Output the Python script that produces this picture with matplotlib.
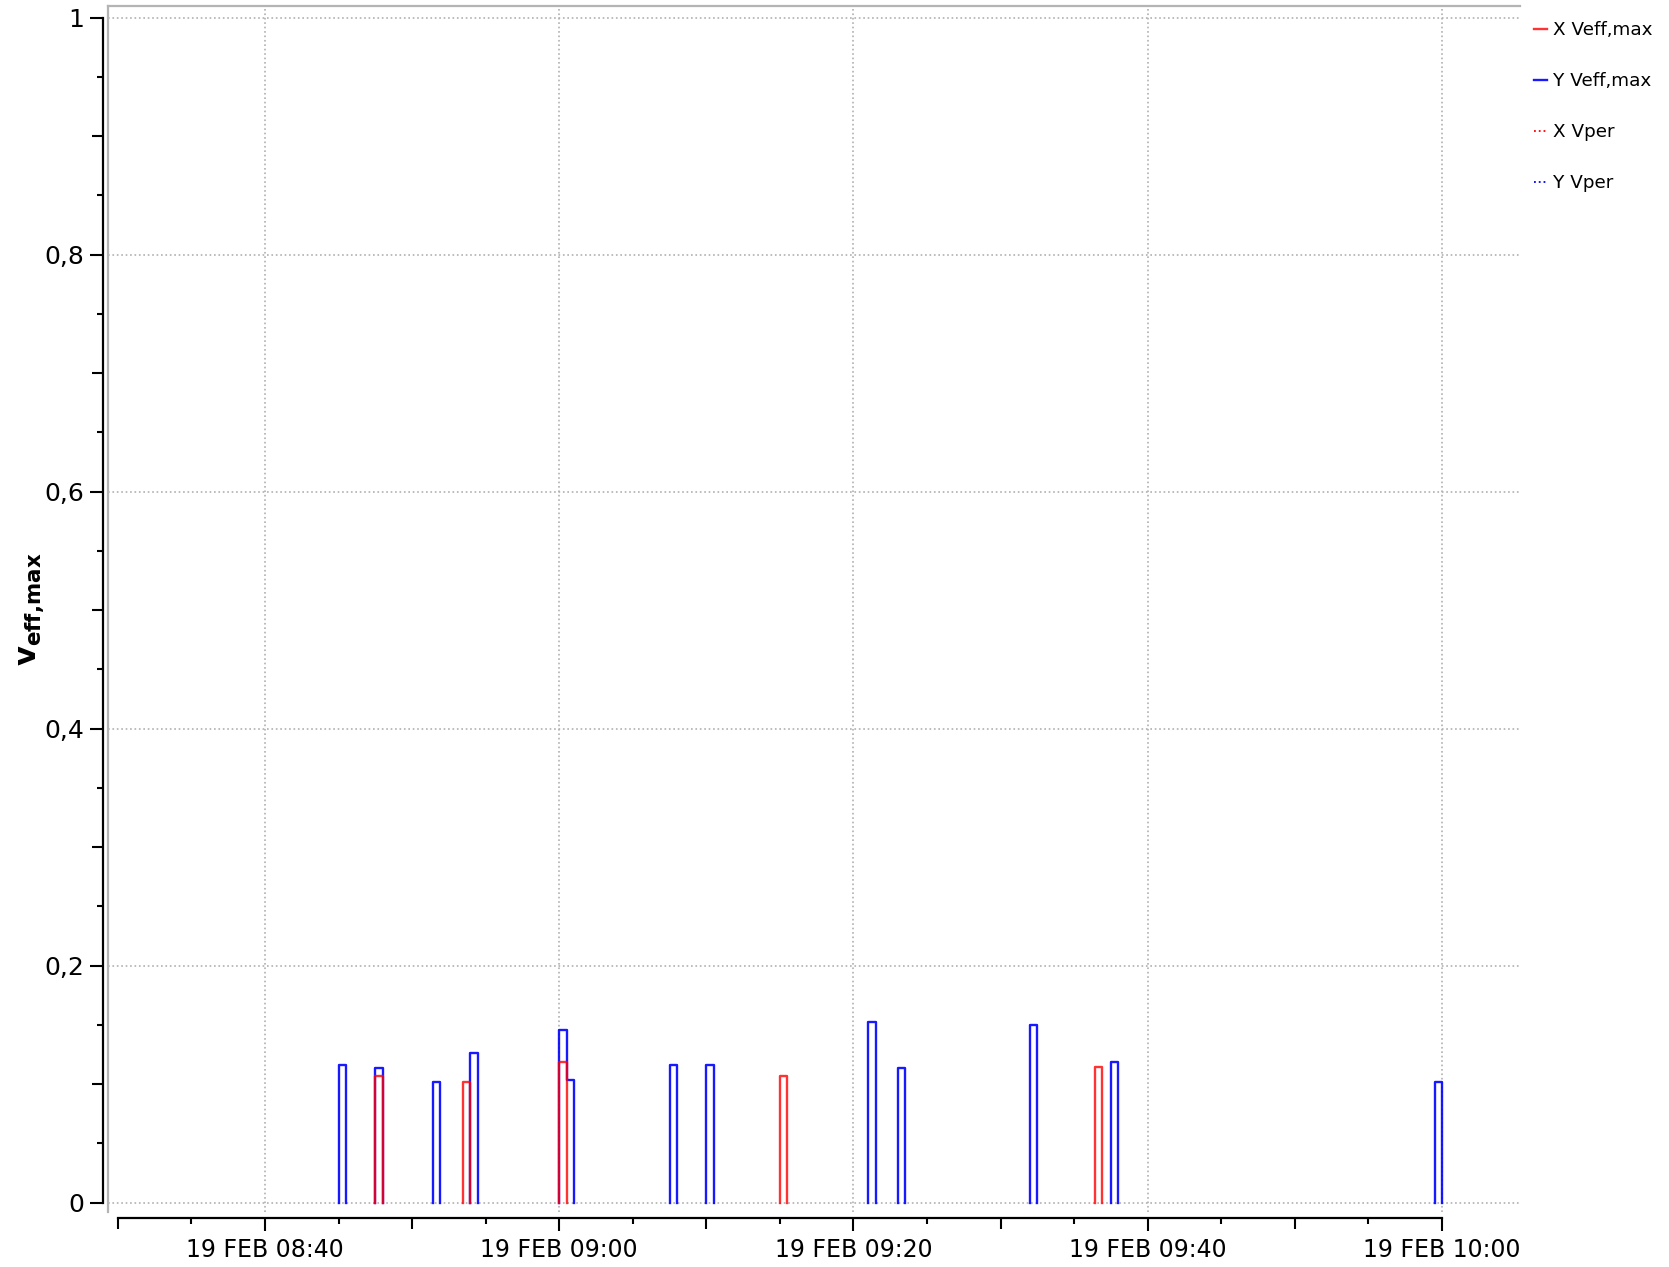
import matplotlib
matplotlib.use('Agg')
import matplotlib.pyplot as plt
import matplotlib.dates as mdates
from matplotlib.ticker import FixedLocator, FuncFormatter
import numpy as np
from datetime import datetime

# start of each 30 s sample, minutes after 08:30
x_starts = [17.5, 23.45, 30.0, 45.0, 66.4]
x_vals = [0.1065, 0.1014, 0.1188, 0.1065, 0.1146]
y_starts = [15.0, 17.5, 21.4, 23.95, 30.0, 30.5, 37.5, 40.0, 51.0, 53.0, 62.0, 67.5, 89.5]
y_vals = [0.1163, 0.1135, 0.1014, 0.1259, 0.1458, 0.1036, 0.1163, 0.1163, 0.1526, 0.1135, 0.150, 0.1188, 0.1014]
xper_starts, xper_vals = [], []   # nothing in this window
yper_starts, yper_vals = [], []
labels = ['X Veff,max', 'Y Veff,max', 'X Vper', 'Y Vper']
W = 0.5
base = mdates.date2num(datetime(2021, 2, 19, 8, 30))


def outline(starts, vals):
    # step outline with no baseline, neighbouring samples joined
    groups = []
    for s, v in sorted(zip(starts, vals)):
        if groups and abs(groups[-1][-1][0] + W - s) < 1e-6:
            groups[-1].append((s, v))
        else:
            groups.append([(s, v)])
    xs, ys = [], []
    for g in groups:
        xs.append(g[0][0]); ys.append(0)
        for s, v in g:
            xs += [s, s + W]; ys += [v, v]
        xs.append(g[-1][0] + W); ys.append(0)
        xs.append(np.nan); ys.append(np.nan)
    return base + np.array(xs) / 1440.0, np.array(ys)


fig = plt.figure(figsize=(16.69, 12.67), dpi=100)
ax = fig.add_axes([0.0647, 0.0434, 0.846, 0.9518])

bx, by = outline(y_starts, y_vals)
ax.plot(bx, by, color='#0000ff', lw=1.7, alpha=0.9, zorder=3, label=labels[1])
rx, ry = outline(x_starts, x_vals)
ax.plot(rx, ry, color='#ff0000', lw=1.7, alpha=0.8, zorder=4, label=labels[0])
px, py = outline(xper_starts, xper_vals)
ax.plot(px, py, color='#ff0000', lw=1.3, ls=':', label=labels[2])
qx, qy = outline(yper_starts, yper_vals)
ax.plot(qx, qy, color='#0000ff', lw=1.3, ls=':', label=labels[3])

ax.set_xlim(base - 0.67 / 1440, base + 95.3 / 1440)
ax.set_ylim(-0.008, 1.0097)

# grey frame on top/left, black axes offset outside it
ax.spines['right'].set_visible(False)
ax.spines['top'].set_color('#b4b4b4')
ax.spines['top'].set_linewidth(1.6)
ax.plot([0, 0], [0, 1], transform=ax.transAxes, color='#b4b4b4', lw=1.6, clip_on=False)
ax.spines['left'].set_position(('outward', 3.9))
ax.spines['left'].set_bounds(0, 1)
ax.spines['bottom'].set_position(('outward', 4.3))
ax.spines['bottom'].set_bounds(base, base + 90 / 1440)
for s in ['left', 'bottom']:
    ax.spines[s].set_linewidth(1.6)
    ax.spines[s].set_color('black')

ax.xaxis.set_major_locator(FixedLocator([base + m / 1440 for m in range(10, 91, 20)]))
ax.xaxis.set_minor_locator(FixedLocator([base + m / 1440 for m in range(0, 91, 5)]))
ax.xaxis.set_major_formatter(FuncFormatter(
    lambda v, p: mdates.num2date(v).strftime('%d %b %H:%M').upper()))
ax.yaxis.set_major_locator(FixedLocator(np.arange(0, 1.01, 0.2)))
ax.yaxis.set_minor_locator(FixedLocator(np.arange(0, 1.01, 0.05)))
ax.yaxis.set_major_formatter(FuncFormatter(lambda v, p: f'{v:g}'.replace('.', ',')))

ax.tick_params(which='major', length=9.4, width=1.5, colors='black')
ax.tick_params(axis='x', which='major', labelsize=17, pad=5)
ax.tick_params(axis='y', which='major', labelsize=18, pad=4)
ax.tick_params(which='minor', length=4.5, width=1.5)

# 10 min / 0.1 ticks are a bit longer
yl = ax.yaxis.get_minorticklocs()
for t, v in zip(ax.yaxis.get_minor_ticks(len(yl)), yl):
    if abs(v * 10 - round(v * 10)) < 1e-6:
        t.tick1line.set_markersize(7.8)
xl = ax.xaxis.get_minorticklocs()
for t, v in zip(ax.xaxis.get_minor_ticks(len(xl)), xl):
    m = round((v - base) * 1440)
    if m % 10 == 0:
        t.tick1line.set_markersize(7.8)

ax.grid(True, which='major', ls=':', color='#b0b0b0', lw=1.2, zorder=1)
ax.set_axisbelow(True)

ax.set_ylabel(r'$\mathbf{v}_{\mathbf{eff{,}max}}$', fontsize=22)
ax.yaxis.set_label_coords(-0.043, 0.5)

h, l = ax.get_legend_handles_labels()
hd = dict(zip(l, h))
fig.legend([hd[x] for x in labels], labels, loc='upper left',
           bbox_to_anchor=(1534 / 1669, 1 - 21 / 1267), frameon=False,
           fontsize=13.2, handlelength=0.7, handletextpad=0.33,
           labelspacing=1.8, borderpad=0, borderaxespad=0)

fig.savefig('out.png', dpi=100)
